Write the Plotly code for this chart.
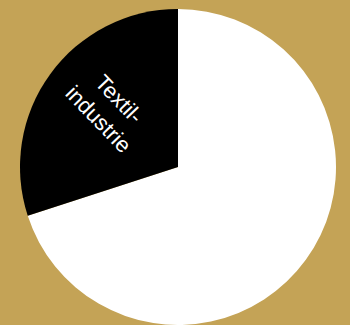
import plotly.graph_objects as go

labels = ["Övriga", "Textilindustrie"]
values = [70, 30]
label_text = "Textil-<br>industrie"
colors = ["#FFFFFF", "#000000"]

fig = go.Figure(go.Pie(
    labels=labels, values=values,
    textinfo="none", sort=False, direction="clockwise", rotation=0,
    marker=dict(colors=colors, line=dict(width=0)),
    hoverinfo="label+percent", showlegend=False,
))
fig.add_annotation(
    text=label_text, x=0.279, y=0.683, xref="paper", yref="paper",
    xanchor="center", yanchor="middle",
    showarrow=False, textangle=46,
    font=dict(color="white", size=22, family="Liberation Sans, Arial, sans-serif"),
)
fig.update_layout(
    width=350, height=325,
    margin=dict(l=20, r=14, t=9, b=0),
    paper_bgcolor="#C4A356", plot_bgcolor="#C4A356",
)
fig.write_html("out.html")
